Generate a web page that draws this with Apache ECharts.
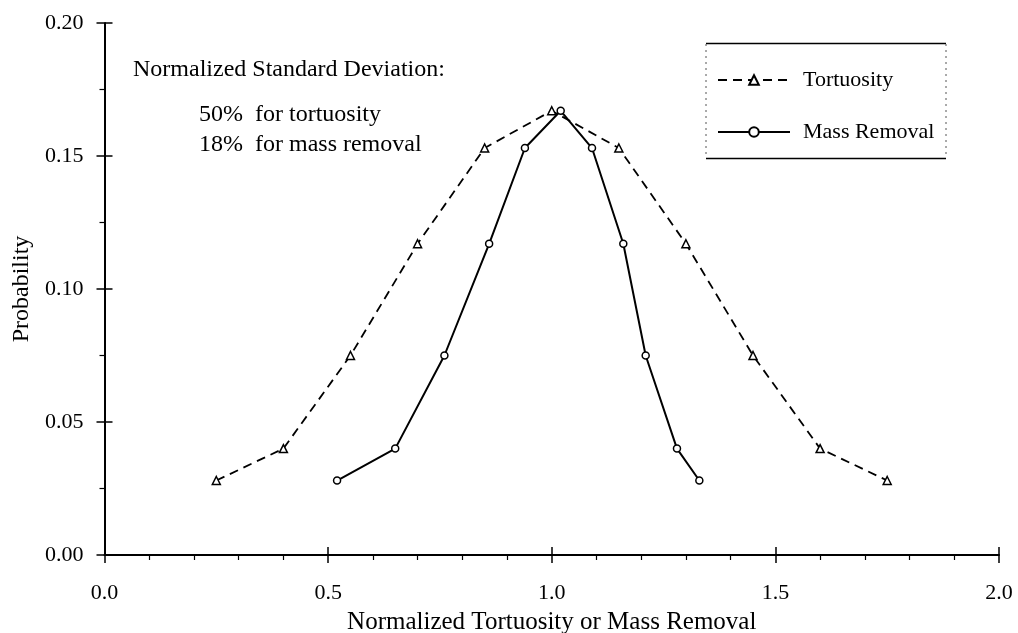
<!DOCTYPE html>
<html>
<head>
<meta charset="utf-8">
<script src="https://cdn.jsdelivr.net/npm/echarts@6/dist/echarts.min.js"></script>
<style>
html,body{margin:0;padding:0;background:#fff;}
#chart{width:1018px;height:633px;}
</style>
</head>
<body>
<div id="chart"></div>
<script>
// Data
var tortuosityX = [0.25, 0.40, 0.55, 0.70, 0.85, 1.00, 1.15, 1.30, 1.45, 1.60, 1.75];
var tortuosityY = [0.028, 0.040, 0.075, 0.117, 0.153, 0.167, 0.153, 0.117, 0.075, 0.040, 0.028];
var massX = [0.52, 0.65, 0.76, 0.86, 0.94, 1.02, 1.09, 1.16, 1.21, 1.28, 1.33];
var massY = [0.028, 0.040, 0.075, 0.117, 0.153, 0.167, 0.153, 0.117, 0.075, 0.040, 0.028];
var seriesNames = ['Tortuosity', 'Mass Removal'];
var annotationLines = ['Normalized Standard Deviation:', '50%  for tortuosity', '18%  for mass removal'];
var xTitle = 'Normalized Tortuosity or Mass Removal';
var yTitle = 'Probability';

function pairs(xs, ys) { return xs.map(function (x, i) { return [x, ys[i]]; }); }

var FONT = '"Liberation Serif", "Times New Roman", serif';
var chart = echarts.init(document.getElementById('chart'));

var baseX = {
  type: 'value', min: 0, max: 2, interval: 0.5,
  splitLine: { show: false }
};
var baseY = {
  type: 'value', min: 0, max: 0.2, interval: 0.05,
  splitLine: { show: false }
};

chart.setOption({
  backgroundColor: '#fff',
  animation: false,
  grid: { left: 104.5, right: 19, top: 23, bottom: 78, containLabel: false, outerBoundsMode: 'none' },
  xAxis: [
    Object.assign({}, baseX, {
      name: xTitle, nameLocation: 'middle', nameGap: 55,
      nameTextStyle: { fontFamily: FONT, fontSize: 25, color: '#000' },
      axisLine: { lineStyle: { color: '#000', width: 2 } },
      axisTick: { inside: false, length: 8, lineStyle: { color: '#000', width: 1.5 } },
      minorTick: { show: true, splitNumber: 5, length: 5, lineStyle: { color: '#000', width: 1.2 } },
      axisLabel: { margin: 27, fontFamily: FONT, fontSize: 22, color: '#000',
        formatter: function (v) { return v.toFixed(1); } }
    }),
    Object.assign({}, baseX, {
      position: 'bottom',
      axisLine: { show: false },
      axisTick: { inside: true, length: 8, lineStyle: { color: '#000', width: 1.5 } },
      axisLabel: { show: false }
    })
  ],
  yAxis: [
    Object.assign({}, baseY, {
      name: yTitle, nameLocation: 'middle', nameGap: 70,
      nameTextStyle: { fontFamily: FONT, fontSize: 24, color: '#000' },
      axisLine: { lineStyle: { color: '#000', width: 2 } },
      axisTick: { inside: false, length: 8, lineStyle: { color: '#000', width: 1.5 } },
      minorTick: { show: true, splitNumber: 2, length: 5, lineStyle: { color: '#000', width: 1.2 } },
      axisLabel: { margin: 21, fontFamily: FONT, fontSize: 22, color: '#000',
        formatter: function (v) { return v.toFixed(2); } }
    }),
    Object.assign({}, baseY, {
      position: 'left',
      axisLine: { show: false },
      axisTick: { inside: true, length: 8, lineStyle: { color: '#000', width: 1.5 } },
      axisLabel: { show: false }
    })
  ],
  legend: {
    orient: 'vertical', left: 712, top: 64,
    itemWidth: 72, itemHeight: 12, itemGap: 30,
    textStyle: { fontFamily: FONT, fontSize: 22, color: '#000', lineHeight: 22, padding: [0, 0, 0, 8] },
    data: seriesNames
  },
  graphic: [
    { type: 'line', shape: { x1: 706, y1: 43.5, x2: 946, y2: 43.5 }, style: { stroke: '#000', lineWidth: 1.5 } },
    { type: 'line', shape: { x1: 706, y1: 158.5, x2: 946, y2: 158.5 }, style: { stroke: '#000', lineWidth: 1.5 } },
    { type: 'line', shape: { x1: 706, y1: 44, x2: 706, y2: 158 }, style: { stroke: '#555', lineWidth: 1, lineDash: [2, 4] } },
    { type: 'line', shape: { x1: 946, y1: 44, x2: 946, y2: 158 }, style: { stroke: '#555', lineWidth: 1, lineDash: [2, 4] } },
    { type: 'text', left: 133, top: 58, style: { text: annotationLines[0], font: '24px ' + FONT, fill: '#000' } },
    { type: 'text', left: 199, top: 103, style: { text: annotationLines[1], font: '24px ' + FONT, fill: '#000' } },
    { type: 'text', left: 199, top: 133, style: { text: annotationLines[2], font: '24px ' + FONT, fill: '#000' } }
  ],
  series: [
    {
      name: seriesNames[0], type: 'line', xAxisIndex: 0, yAxisIndex: 0,
      data: pairs(tortuosityX, tortuosityY),
      symbol: 'triangle', symbolSize: 8,
      lineStyle: { color: '#000', width: 1.8, type: [9, 6] },
      itemStyle: { color: '#fff', borderColor: '#000', borderWidth: 1.5 }
    },
    {
      name: seriesNames[1], type: 'line', xAxisIndex: 0, yAxisIndex: 0,
      data: pairs(massX, massY),
      symbol: 'circle', symbolSize: 7,
      lineStyle: { color: '#000', width: 2 },
      itemStyle: { color: '#fff', borderColor: '#000', borderWidth: 1.5 }
    }
  ]
});
</script>
</body>
</html>
